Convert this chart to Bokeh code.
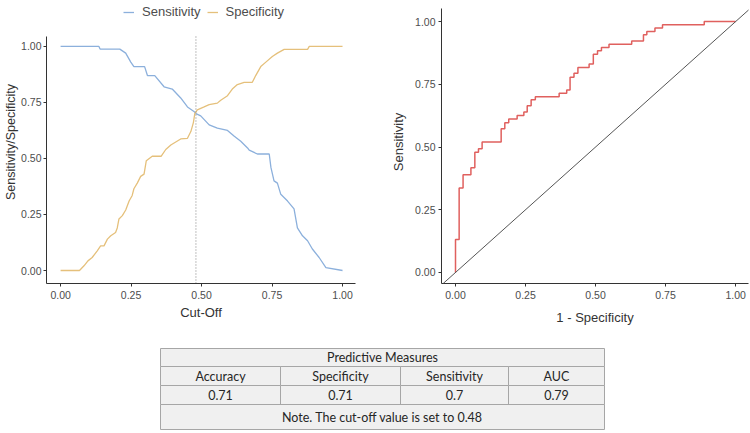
from bokeh.plotting import figure
from bokeh.layouts import row, column
from bokeh.models import (Range1d, FixedTicker, NumeralTickFormatter, Slope,
                          Legend, LegendItem, ColumnDataSource)
from bokeh.core.properties import value
from bokeh.embed import file_html
from bokeh.resources import INLINE

# ---------------- data ----------------
sens_cutoff = [0.0, 0.136, 0.14, 0.21, 0.231, 0.249, 0.26, 0.298, 0.308, 0.334, 0.367,
               0.396, 0.426, 0.45, 0.473, 0.48, 0.497, 0.527, 0.556, 0.592, 0.615, 0.639,
               0.663, 0.669, 0.698, 0.74, 0.746, 0.757, 0.769, 0.781, 0.805, 0.828, 0.84,
               0.858, 0.876, 0.893, 0.917, 0.941, 1.0]
sensitivity = [1.0, 1.0, 0.988, 0.988, 0.97, 0.93, 0.91, 0.91, 0.87, 0.87, 0.82,
               0.81, 0.77, 0.73, 0.71, 0.70, 0.69, 0.65, 0.635, 0.625, 0.60, 0.577,
               0.547, 0.537, 0.52, 0.52, 0.46, 0.40, 0.39, 0.34, 0.31, 0.275, 0.19,
               0.155, 0.133, 0.096, 0.058, 0.013, 0.0]

spec_cutoff = [0.0, 0.067, 0.083, 0.097, 0.112, 0.13, 0.142, 0.154, 0.166, 0.178, 0.195,
               0.201, 0.207, 0.219, 0.231, 0.243, 0.254, 0.26, 0.272, 0.284, 0.296, 0.304,
               0.325, 0.357, 0.373, 0.391, 0.426, 0.45, 0.462, 0.471, 0.476, 0.485, 0.509,
               0.527, 0.556, 0.568, 0.592, 0.609, 0.627, 0.651, 0.68, 0.692, 0.71, 0.728,
               0.751, 0.769, 0.793, 0.876, 0.882, 1.0]
specificity = [0.0, 0.0, 0.021, 0.043, 0.058, 0.088, 0.11, 0.11, 0.14, 0.155, 0.17,
               0.19, 0.23, 0.245, 0.27, 0.31, 0.335, 0.365, 0.39, 0.42, 0.43, 0.49,
               0.51, 0.51, 0.54, 0.56, 0.587, 0.59, 0.62, 0.66, 0.70, 0.717, 0.73,
               0.74, 0.747, 0.76, 0.78, 0.81, 0.83, 0.84, 0.84, 0.87, 0.91, 0.93,
               0.955, 0.97, 0.987, 0.987, 1.0, 1.0]

cutoff_value = 0.48

roc_fpr = [0.0, 0.0, 0.013, 0.027, 0.055, 0.069, 0.082, 0.095, 0.163, 0.176, 0.19,
           0.22, 0.244, 0.256, 0.27, 0.285, 0.37, 0.397, 0.409, 0.423, 0.437, 0.477,
           0.492, 0.507, 0.521, 0.548, 0.629, 0.671, 0.683, 0.712, 0.739, 0.888, 1.0]
roc_tpr = [0.0, 0.131, 0.337, 0.389, 0.417, 0.479, 0.493, 0.52, 0.573, 0.597, 0.612,
           0.626, 0.64, 0.664, 0.688, 0.70, 0.714, 0.727, 0.778, 0.794, 0.817, 0.831,
           0.87, 0.884, 0.897, 0.91, 0.923, 0.947, 0.96, 0.974, 0.987, 1.0, 1.0]

tick_values = [0.0, 0.25, 0.5, 0.75, 1.0]

table_title = "Predictive Measures"
table_headers = ["Accuracy", "Specificity", "Sensitivity", "AUC"]
table_values = ["0.71", "0.71", "0.7", "0.79"]
table_note = "Note. The cut-off value is set to 0.48"

# ---------------- styles ----------------
FONT = "Liberation Sans"
BLUE = "#8CB0DC"
ORANGE = "#E5C07B"
RED = "#E0605E"
AXIS = "#333333"
TICK = "#4D4D4D"


def style_axes(p, xlabel, ylabel, xlab_standoff, ylab_standoff, ylab_size="13px", ytick_standoff=3):
    p.grid.visible = False
    p.outline_line_color = None
    p.background_fill_color = "white"
    p.border_fill_color = "white"
    for ax, lab, st in ((p.xaxis[0], xlabel, xlab_standoff), (p.yaxis[0], ylabel, ylab_standoff)):
        ax.axis_label = lab
        ax.ticker = FixedTicker(ticks=tick_values)
        ax.formatter = NumeralTickFormatter(format="0.00")
        ax.axis_line_color = AXIS
        ax.axis_line_width = 1
        ax.major_tick_line_color = AXIS
        ax.major_tick_out = 3
        ax.major_tick_in = 0
        ax.minor_tick_line_color = None
        ax.major_label_text_font = FONT
        ax.major_label_text_font_size = "10.5px"
        ax.major_label_text_color = TICK
        ax.major_label_standoff = 4
        ax.axis_label_text_font = FONT
        ax.axis_label_text_font_size = "13px"
        ax.axis_label_text_font_style = "normal"
        ax.axis_label_text_color = AXIS
        ax.axis_label_standoff = st
    p.yaxis[0].axis_label_text_font_size = ylab_size
    p.yaxis[0].major_label_standoff = ytick_standoff


# ---------------- left: sensitivity / specificity vs cut-off ----------------
L_YLO, L_YHI = -0.058, 1.045          # extent of the drawn y axis
p1 = figure(width=388, height=330, x_range=Range1d(-0.05, 1.046), y_range=Range1d(L_YLO, 1.205),
            output_backend="svg", toolbar_location=None,
            min_border_left=46, min_border_right=33, min_border_top=0, min_border_bottom=47)
style_axes(p1, "Cut-Off", "Sensitivity/Specificity", 3, 0, ylab_size="12.5px", ytick_standoff=2)
p1.yaxis[0].bounds = (L_YLO, L_YHI)

r_sens = p1.line(sens_cutoff, sensitivity, line_color=BLUE, line_width=1.3)
r_spec = p1.line(spec_cutoff, specificity, line_color=ORANGE, line_width=1.3)
p1.line([cutoff_value, cutoff_value], [L_YLO, L_YHI], line_color="#808080",
        line_dash="1 2", line_width=1)

legend = Legend(items=[LegendItem(label="Sensitivity", renderers=[r_sens]),
                       LegendItem(label="Specificity", renderers=[r_spec])],
                orientation="horizontal", location=(77, 264),
                glyph_width=11, glyph_height=12, label_height=12,
                label_standoff=8, spacing=6, padding=0, margin=0,
                border_line_color=None, background_fill_alpha=0,
                label_text_font=FONT, label_text_font_size="13px", label_text_color=TICK)
p1.add_layout(legend, "center")

# ---------------- right: ROC curve ----------------
R_YLO, R_YHI = -0.044, 1.052
p2 = figure(width=362, height=330, x_range=Range1d(-0.05, 1.046), y_range=Range1d(R_YLO, 1.084),
            output_backend="svg", toolbar_location=None,
            min_border_left=53, min_border_right=2, min_border_top=0, min_border_bottom=47)
style_axes(p2, "1 - Specificity", "Sensitivity", 8, 6)
p2.yaxis[0].bounds = (R_YLO, R_YHI)
p2.add_layout(Slope(gradient=1, y_intercept=0, line_color="#555555", line_width=1))
p2.step(roc_fpr, roc_tpr, mode="after", line_color=RED, line_width=1.5)

# ---------------- table ----------------
TW, TH = 750, 103
pt = figure(width=TW, height=TH, x_range=Range1d(0, TW), y_range=Range1d(TH, 0),
            output_backend="svg", toolbar_location=None, x_axis_type=None, y_axis_type=None,
            min_border=0)
pt.grid.visible = False
pt.outline_line_color = None

col_edges = [160, 280, 400, 508, 604]
row_edges = [18, 36, 55, 74, 99]
t_left, t_right = col_edges[0], col_edges[-1]
FILL = "#F0F0F0"
LINE = "#A6A6A6"

cells = dict(left=[], right=[], top=[], bottom=[])


def add_cell(l, r, t, b):
    cells["left"].append(l); cells["right"].append(r)
    cells["top"].append(t); cells["bottom"].append(b)


add_cell(t_left, t_right, row_edges[0], row_edges[1])
for i in range(len(table_headers)):
    add_cell(col_edges[i], col_edges[i + 1], row_edges[1], row_edges[2])
    add_cell(col_edges[i], col_edges[i + 1], row_edges[2], row_edges[3])
add_cell(t_left, t_right, row_edges[3], row_edges[4])
pt.quad(source=ColumnDataSource(cells), left="left", right="right", top="top", bottom="bottom",
        fill_color=FILL, line_color=LINE, line_width=1)

tx, ty, tt = [], [], []
tx.append((t_left + t_right) / 2); ty.append((row_edges[0] + row_edges[1]) / 2); tt.append(table_title)
for i in range(len(table_headers)):
    cx = (col_edges[i] + col_edges[i + 1]) / 2
    tx.append(cx); ty.append((row_edges[1] + row_edges[2]) / 2); tt.append(table_headers[i])
    tx.append(cx); ty.append((row_edges[2] + row_edges[3]) / 2); tt.append(table_values[i])
tx.append((t_left + t_right) / 2); ty.append((row_edges[3] + row_edges[4]) / 2); tt.append(table_note)
pt.text(x=tx, y=ty, text=tt, text_align="center", text_baseline="middle",
        text_font=value("Lato"), text_font_size="12.5px", text_color="#262626")

layout = column(row(p1, p2, spacing=0), pt, spacing=0)
open("out.html", "w").write(file_html(layout, INLINE))
